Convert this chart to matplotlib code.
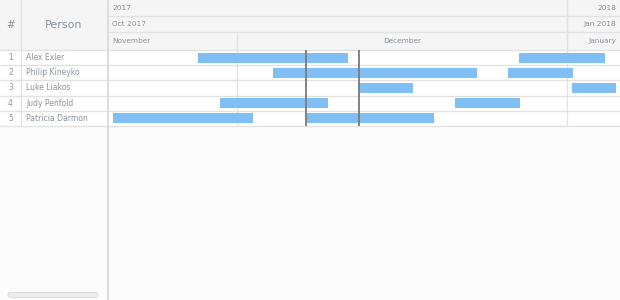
import matplotlib
matplotlib.use("Agg")
import matplotlib.pyplot as plt
import matplotlib.dates as mdates
from matplotlib.patches import FancyBboxPatch
import pandas as pd

# ---- data ----
people = ["Alex Exler", "Philip Kineyko", "Luke Liakos", "Judy Penfold", "Patricia Darmon"]
task_starts = [
    ["2017-11-27 09:00", "2017-12-27 12:30"],
    ["2017-12-04 10:00", "2017-12-26 12:00"],
    ["2017-12-12 12:00", "2018-01-01 12:00"],
    ["2017-11-29 10:00", "2017-12-21 12:00"],
    ["2017-11-19 09:00", "2017-12-07 12:00"],
]
task_ends = [
    ["2017-12-11 11:00", "2018-01-04 14:00"],
    ["2017-12-23 14:00", "2018-01-01 14:00"],
    ["2017-12-17 13:00", "2018-01-05 14:00"],
    ["2017-12-09 14:00", "2017-12-27 14:00"],
    ["2017-12-02 13:00", "2017-12-19 13:00"],
]
marker_dates = ["2017-12-07 12:00", "2017-12-12 11:00"]
view_start = "2017-11-18 21:00"
view_end = "2018-01-05 23:30"

# header periods: (label, start, end)
years = [("2017", "2017-01-01", "2018-01-01"), ("2018", "2018-01-01", "2019-01-01")]
quarters = [("Oct 2017", "2017-10-01", "2018-01-01"), ("Jan 2018", "2018-01-01", "2018-04-01")]
months = [("November", "2017-11-01", "2017-12-01"), ("December", "2017-12-01", "2018-01-01"),
          ("January", "2018-01-01", "2018-02-01")]

W, H = 620, 300
HEADER = 50
ROW_H = 15.2
GRID_W = 107
NUM_W = 21

text_col = "#8a9299"
line_col = "#e2e2e2"
header_bg = "#f5f5f5"
bar_col = "#7fbff4"

d = lambda s: mdates.date2num(pd.Timestamp(s))
x0, x1 = d(view_start), d(view_end)
n = len(people)
rows_bottom = HEADER + n * ROW_H

fig = plt.figure(figsize=(W / 100, H / 100), dpi=100)
fig.patch.set_facecolor("#fcfcfc")

# ---- left data grid ----
gx = fig.add_axes([0, 0, GRID_W / W, 1])
gx.set_xlim(0, GRID_W)
gx.set_ylim(H, 0)
gx.axis("off")
gx.add_patch(plt.Rectangle((0, 0), GRID_W, HEADER, color=header_bg, lw=0))
gx.add_patch(plt.Rectangle((0, HEADER), GRID_W, n * ROW_H, color="white", lw=0))
gx.hlines([HEADER + i * ROW_H for i in range(n + 1)], 0, GRID_W, color=line_col, lw=1)
gx.vlines(NUM_W, 0, rows_bottom, color=line_col, lw=1)
gx.text(NUM_W / 2, HEADER / 2, "#", ha="center", va="center", fontsize=7.5, color=text_col)
gx.text((NUM_W + GRID_W) / 2, HEADER / 2, "Person", ha="center", va="center", fontsize=8, color=text_col)
for i, name in enumerate(people):
    yc = HEADER + (i + 0.5) * ROW_H
    gx.text(NUM_W / 2, yc, str(i + 1), ha="center", va="center", fontsize=5.5, color=text_col)
    gx.text(NUM_W + 5, yc, name, ha="left", va="center", fontsize=5.5, color=text_col)
gx.add_patch(FancyBboxPatch((8, 292.5), 90, 5, boxstyle="round,pad=0,rounding_size=2.5",
                            fc="#ececec", ec="#d8d8d8", lw=0.6))

# separator between grid and timeline
fig.add_artist(plt.Line2D([(GRID_W + 0.5) / W] * 2, [0, 1], color="#d6d6d6", lw=1.2))

# ---- timeline ----
tl = (GRID_W + 1) / W
ax = fig.add_axes([tl, 0, 1 - tl, (H - HEADER) / H])
ax.set_xlim(x0, x1)
ax.set_ylim((H - HEADER) / ROW_H, 0)
ax.axis("off")
ax.axhspan(0, n, color="white", lw=0, zorder=0)
ax.hlines(range(n + 1), x0, x1, color=line_col, lw=1, zorder=1)
for _, s, e in months[1:]:
    ax.vlines(d(s), 0, n, color=line_col, lw=1, zorder=1)
for i in range(n):
    for s, e in zip(task_starts[i], task_ends[i]):
        ax.barh(i + 0.5, d(e) - d(s), left=d(s), height=0.66, color=bar_col, zorder=2)
for m in marker_dates:
    ax.vlines(d(m), 0, n, color="#7a7a7a", lw=1.3, zorder=3)

# ---- timeline header ----
hx = fig.add_axes([tl, (H - HEADER) / H, 1 - tl, HEADER / H])
hx.set_xlim(x0, x1)
hx.set_ylim(HEADER, 0)
hx.axis("off")
hx.axhspan(0, HEADER, color=header_bg, lw=0)
bands = [(years, 0, 16), (quarters, 16, 32), (months, 32, HEADER)]
for periods, top, bot in bands:
    hx.hlines(bot - 0.5, x0, x1, color=line_col, lw=1)
    for label, s, e in periods:
        ds, de = d(s), d(e)
        if x0 < ds < x1:
            hx.vlines(ds, top, bot, color=line_col, lw=1)
        mid = (ds + de) / 2
        yc = (top + bot) / 2
        if mid < x0:
            hx.annotate(label, (max(ds, x0), yc), xytext=(4, 0), textcoords="offset pixels",
                        ha="left", va="center", fontsize=5.3, color=text_col)
        elif mid > x1:
            hx.annotate(label, (min(de, x1), yc), xytext=(-4, 0), textcoords="offset pixels",
                        ha="right", va="center", fontsize=5.3, color=text_col)
        else:
            hx.text(mid, yc, label, ha="center", va="center", fontsize=5.3, color=text_col)

fig.savefig("out.png", dpi=100, facecolor=fig.get_facecolor())
